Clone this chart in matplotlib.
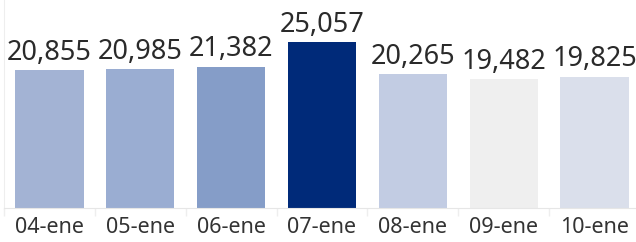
import matplotlib.pyplot as plt

fechas = ['04-ene', '05-ene', '06-ene', '07-ene', '08-ene', '09-ene', '10-ene']
valores = [20855, 20985, 21382, 25057, 20265, 19482, 19825]
colores = ['#a3b3d4', '#9aadd2', '#859dc8', '#002a79', '#c2cce3', '#efefef', '#dadfeb']

fig = plt.figure(figsize=(6.36, 2.42), dpi=100)
ax = fig.add_axes([4 / 636, 34 / 242, 636 / 636, 208 / 242])

x = list(range(len(fechas)))
barras = ax.bar(x, valores, width=0.75, color=colores)

for xi, v in zip(x, valores):
    ax.annotate(f'{v:,}', (xi, v), xytext=(0, 7.5), textcoords='offset points',
                ha='center', va='baseline', fontsize=19.5, family='Noto Sans',
                color='#2a2a2a')

ax.set_xlim(-0.5, len(fechas) - 0.5)
ax.set_ylim(0, 31440)
ax.set_xticks(x)
ax.set_xticklabels(fechas, fontsize=15.5, family='Noto Sans', color='#333333')
ax.tick_params(axis='x', length=0, pad=6.5)
ax.set_xticks([i - 0.5 for i in range(len(fechas) + 1)], minor=True)
ax.tick_params(axis='x', which='minor', length=6, color='#eeeeee', width=1)
ax.set_yticks([])

for lado in ['top', 'right']:
    ax.spines[lado].set_visible(False)
ax.spines['left'].set_color('#eeeeee')
ax.spines['bottom'].set_color('#e6e6e6')

fig.savefig('out.png', dpi=100)
